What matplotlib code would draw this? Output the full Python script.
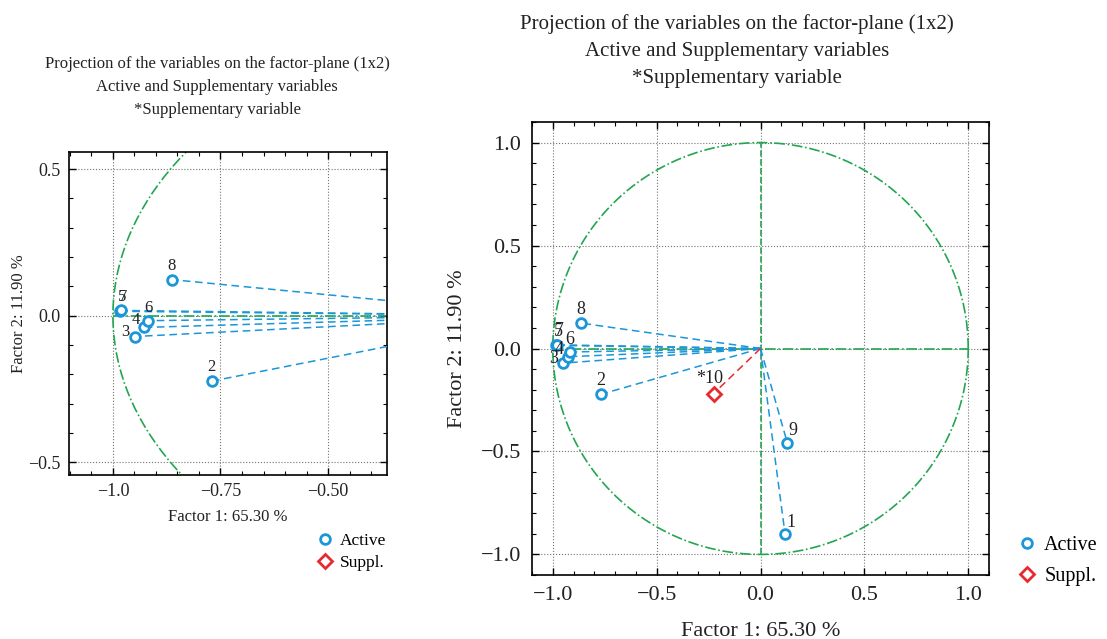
import numpy as np
import matplotlib
matplotlib.use("Agg")
import matplotlib.pyplot as plt
from matplotlib.lines import Line2D
from matplotlib.ticker import AutoMinorLocator

plt.rcParams["font.family"] = ["Liberation Serif", "DejaVu Serif"]

# Coordinates of the variables on factor 1 and factor 2
active_names = ["1", "2", "3", "4", "5", "6", "7", "8", "9"]
active_f1 = [0.118, -0.770, -0.949, -0.928, -0.984, -0.918, -0.982, -0.863, 0.129]
active_f2 = [-0.899, -0.223, -0.071, -0.040, 0.015, -0.017, 0.018, 0.123, -0.458]

suppl_names = ["*10"]
suppl_f1 = [-0.226]
suppl_f2 = [-0.219]

title = ("Projection of the variables on the factor-plane (1x2)\n"
         "Active and Supplementary variables\n"
         "*Supplementary variable")
xlabel = "Factor 1: 65.30 %"
ylabel = "Factor 2: 11.90 %"

left_xticks = [-1.0, -0.75, -0.5]
left_xticklabels = ["\u22121.0", "\u22120.75", "\u22120.50"]
left_yticks = [-0.5, 0.0, 0.5]
full_ticks = [-1.0, -0.5, 0.0, 0.5, 1.0]

blue = "#1a96d9"
red = "#e52b2f"
green = "#22a651"

# label offsets in points (dx, dy) relative to the marker
offsets = {"1": (4, 8), "2": (0, 10), "3": (-7, 3), "4": (-6, 5), "5": (2, 10),
           "6": (0, 9), "7": (2, 10), "8": (0, 10), "9": (4, 9), "*10": (-3, 11)}

W, H = 1107, 639
fig = plt.figure(figsize=(W / 100, H / 100), dpi=100)


def draw(ax, fs_tick, fs_lab, fs_txt, pad, xpad, ypad):
    t = np.linspace(0, 2 * np.pi, 400)
    ax.plot(np.cos(t), np.sin(t), ls="-.", color=green, lw=1.2, zorder=2)
    ax.plot([-1, 1], [0, 0], ls="-.", color=green, lw=1.2, zorder=2)
    ax.plot([0, 0], [-1, 1], ls="--", color=green, lw=1.2, zorder=2)
    for x, y in zip(active_f1, active_f2):
        ax.plot([0, x], [0, y], ls="--", dashes=(5, 3), color=blue, lw=1.1, zorder=3)
    for x, y in zip(suppl_f1, suppl_f2):
        ax.plot([0, x], [0, y], ls="--", dashes=(5, 3), color=red, lw=1.1, zorder=3)
    ax.plot(active_f1, active_f2, "o", ms=7, mfc="white", mec=blue, mew=2, ls="none", zorder=4)
    ax.plot(suppl_f1, suppl_f2, "D", ms=7, mfc="white", mec=red, mew=2, ls="none", zorder=4)
    for n, x, y in zip(active_names + suppl_names, active_f1 + suppl_f1, active_f2 + suppl_f2):
        dx, dy = offsets[n]
        ax.annotate(n, (x, y), xytext=(dx, dy), textcoords="offset points",
                    ha="center", va="center", fontsize=fs_txt, color="#222222",
                    clip_on=True, zorder=5)
    ax.grid(True, which="major", ls=":", color="0.45", lw=0.8)
    ax.set_axisbelow(True)
    ax.xaxis.set_minor_locator(AutoMinorLocator(5))
    ax.yaxis.set_minor_locator(AutoMinorLocator(5))
    ax.tick_params(which="both", direction="in", top=True, right=True,
                   labelsize=fs_tick, labelcolor="#222222", pad=pad)
    ax.tick_params(which="major", length=5, width=1)
    ax.tick_params(which="minor", length=3, width=0.8)
    for s in ax.spines.values():
        s.set_linewidth(1.2)
    ax.set_xlabel(xlabel, fontsize=fs_lab, color="#222222", labelpad=xpad)
    ax.set_ylabel(ylabel, fontsize=fs_lab, color="#222222", labelpad=ypad)


# zoomed view
ax1 = fig.add_axes([69 / W, 1 - 475 / H, 318 / W, 323 / H])
draw(ax1, 13, 12, 12, 6, 6, 1)
ax1.set_xlim(-1.102, -0.363)
ax1.set_ylim(-0.543, 0.558)
ax1.set_xticks(left_xticks)
ax1.set_xticklabels(left_xticklabels)
ax1.set_yticks(left_yticks)

# full circle
ax2 = fig.add_axes([532 / W, 1 - 575 / H, 457 / W, 453 / H])
draw(ax2, 16, 16, 13, 8, 12, 10)
ax2.set_xlim(-1.1, 1.1)
ax2.set_ylim(-1.1, 1.1)
ax2.set_xticks(full_ticks)
ax2.set_yticks(full_ticks)

fig.text(217 / W, 1 - 87 / H, title, ha="center", va="center", fontsize=12,
         linespacing=1.6, color="#222222")
fig.text(737 / W, 1 - 51 / H, title, ha="center", va="center", fontsize=15,
         linespacing=1.6, color="#222222")

handles = [Line2D([], [], marker="o", ls="none", ms=7, mfc="white", mec=blue, mew=2),
           Line2D([], [], marker="D", ls="none", ms=7, mfc="white", mec=red, mew=2)]
fig.legend(handles, ["Active", "Suppl."], loc="center left",
           bbox_to_anchor=(309 / W, 1 - 552 / H), frameon=False, fontsize=12.5,
           handlelength=0.8, handletextpad=0.5, labelspacing=0.35, borderpad=0)
fig.legend(handles, ["Active", "Suppl."], loc="center left",
           bbox_to_anchor=(1010 / W, 1 - 561 / H), frameon=False, fontsize=14.5,
           handlelength=0.7, handletextpad=0.5, labelspacing=0.6, borderpad=0)

fig.savefig("out.png", dpi=100)
